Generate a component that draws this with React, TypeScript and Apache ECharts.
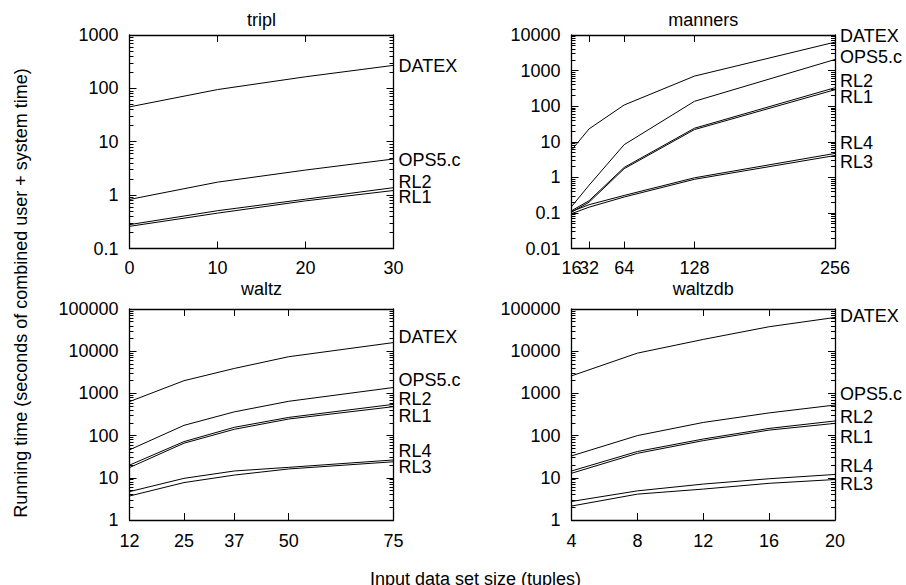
import React, { useEffect, useRef } from 'react';
import * as echarts from 'echarts';

// ---------- data ----------
const TRIPL_SIZES = [0, 10, 20, 30];
const TRIPL_DATEX = [45, 95, 165, 270];
const TRIPL_OPS5C = [0.83, 1.75, 2.95, 4.75];
const TRIPL_RL2 = [0.28, 0.51, 0.84, 1.38];
const TRIPL_RL1 = [0.26, 0.46, 0.78, 1.22];

const MANNERS_SIZES = [16, 32, 64, 128, 256];
const MANNERS_DATEX = [5.8, 23, 108, 700, 6300];
const MANNERS_OPS5C = [0.15, 0.6, 8.3, 137, 2050];
const MANNERS_RL2 = [0.115, 0.22, 1.9, 24, 330];
const MANNERS_RL1 = [0.105, 0.2, 1.75, 22, 290];
const MANNERS_RL4 = [0.11, 0.17, 0.31, 0.97, 4.7];
const MANNERS_RL3 = [0.095, 0.145, 0.28, 0.88, 4.1];

const WALTZ_SIZES = [12, 25, 37, 50, 75];
const WALTZ_DATEX = [640, 2000, 3900, 7400, 16000];
const WALTZ_OPS5C = [46, 175, 365, 650, 1380];
const WALTZ_RL2 = [20, 72, 157, 270, 550];
const WALTZ_RL1 = [17.5, 66, 141, 247, 485];
const WALTZ_RL4 = [4.7, 9.7, 14.5, 17.7, 26.5];
const WALTZ_RL3 = [3.7, 7.7, 11.6, 16.2, 24];

const WALTZDB_SIZES = [4, 8, 12, 16, 20];
const WALTZDB_DATEX = [2600, 9000, 19000, 38000, 63000];
const WALTZDB_OPS5C = [33, 100, 205, 345, 530];
const WALTZDB_RL2 = [14.5, 42, 83, 148, 222];
const WALTZDB_RL1 = [12.8, 38, 76, 135, 195];
const WALTZDB_RL4 = [2.75, 4.9, 7.1, 9.5, 12];
const WALTZDB_RL3 = [2.14, 4.1, 5.4, 7.4, 9.1];

// tick values; the manners "32" label is drawn by its own axis so it is not auto-hidden
const MANNERS_X_TICKS = [16, 32, 64, 128, 256];
const MANNERS_X_LABELS = [16, 64, 128, 256];
const MANNERS_X_EXTRA_LABELS = [32];
const WALTZ_X_TICKS = [12, 25, 37, 50, 75];

const Y_TITLE = 'Running time (seconds of combined user + system time)';
const X_TITLE = 'Input data set size (tuples)';

// ---------- layout / style ----------
const FONT = '"Liberation Sans", Arial, Helvetica, sans-serif';
const FS = 18;

type Panel = {
  title: string;
  sizes: number[];
  series: { name: string; values: number[]; dy: number }[];
  xMin: number; xMax: number; xInterval?: number;
  xTicks?: number[]; xLabels?: number[]; xExtraLabels?: number[];
  yMinExp: number; yMaxExp: number;
  left: number; top: number; width: number; height: number; titleY: number;
  xMargin: number;
};

const PANELS: Panel[] = [
  {
    title: 'tripl', sizes: TRIPL_SIZES,
    series: [
      { name: 'DATEX', values: TRIPL_DATEX, dy: 0.5 },
      { name: 'OPS5.c', values: TRIPL_OPS5C, dy: 1 },
      { name: 'RL2', values: TRIPL_RL2, dy: -6 },
      { name: 'RL1', values: TRIPL_RL1, dy: 6 },
    ],
    xMin: 0, xMax: 30, xInterval: 10, yMinExp: -1, yMaxExp: 3,
    left: 129.5, top: 35, width: 264, height: 213.5, titleY: 19.5, xMargin: 10,
  },
  {
    title: 'manners', sizes: MANNERS_SIZES,
    series: [
      { name: 'DATEX', values: MANNERS_DATEX, dy: -6 },
      { name: 'OPS5.c', values: MANNERS_OPS5C, dy: -2 },
      { name: 'RL2', values: MANNERS_RL2, dy: -7 },
      { name: 'RL1', values: MANNERS_RL1, dy: 7 },
      { name: 'RL4', values: MANNERS_RL4, dy: -10 },
      { name: 'RL3', values: MANNERS_RL3, dy: 6 },
    ],
    xMin: 16, xMax: 256, xTicks: MANNERS_X_TICKS, xLabels: MANNERS_X_LABELS,
    xExtraLabels: MANNERS_X_EXTRA_LABELS, yMinExp: -2, yMaxExp: 4,
    left: 571.5, top: 35, width: 263.5, height: 213.5, titleY: 19.5, xMargin: 10.5,
  },
  {
    title: 'waltz', sizes: WALTZ_SIZES,
    series: [
      { name: 'DATEX', values: WALTZ_DATEX, dy: -5.5 },
      { name: 'OPS5.c', values: WALTZ_OPS5C, dy: -7 },
      { name: 'RL2', values: WALTZ_RL2, dy: -5 },
      { name: 'RL1', values: WALTZ_RL1, dy: 9 },
      { name: 'RL4', values: WALTZ_RL4, dy: -9 },
      { name: 'RL3', values: WALTZ_RL3, dy: 5.5 },
    ],
    xMin: 12, xMax: 75, xTicks: WALTZ_X_TICKS, yMinExp: 0, yMaxExp: 5,
    left: 129.5, top: 309, width: 264, height: 211, titleY: 289, xMargin: 12,
  },
  {
    title: 'waltzdb', sizes: WALTZDB_SIZES,
    series: [
      { name: 'DATEX', values: WALTZDB_DATEX, dy: -1 },
      { name: 'OPS5.c', values: WALTZDB_OPS5C, dy: -11 },
      { name: 'RL2', values: WALTZDB_RL2, dy: -4 },
      { name: 'RL1', values: WALTZDB_RL1, dy: 14 },
      { name: 'RL4', values: WALTZDB_RL4, dy: -8 },
      { name: 'RL3', values: WALTZDB_RL3, dy: 4.5 },
    ],
    xMin: 4, xMax: 20, xInterval: 4, yMinExp: 0, yMaxExp: 5,
    left: 571.5, top: 309, width: 263.5, height: 211, titleY: 289, xMargin: 12,
  },
];

const AXIS_LINE = { color: '#000', width: 1.3 };
const TICK_LINE = { color: '#000', width: 1 };

function fmtLog(v: number): string {
  return String(Number(v.toPrecision(6)));
}

function minorValues(lo: number, hi: number): number[] {
  const out: number[] = [];
  for (let d = lo; d < hi; d++) {
    for (let k = 2; k <= 9; k++) out.push(d + Math.log10(k));
  }
  return out;
}

function buildOption() {
  const grid: any[] = [];
  const xAxis: any[] = [];
  const yAxis: any[] = [];
  const series: any[] = [];
  const graphic: any[] = [];

  PANELS.forEach((p, i) => {
    grid.push({ left: p.left, top: p.top, width: p.width, height: p.height, show: false });

    const labelBase = {
      color: '#000', fontSize: FS, fontFamily: FONT, margin: p.xMargin,
      showMinLabel: true, showMaxLabel: true, hideOverlap: false,
    };
    const makeX = (position: 'bottom' | 'top') => {
      const ax: any = {
        type: 'value', gridIndex: i, position, min: p.xMin, max: p.xMax,
        axisLine: { show: true, onZero: false, lineStyle: AXIS_LINE },
        axisTick: { show: true, inside: true, length: 7, lineStyle: TICK_LINE },
        axisLabel: { ...labelBase, show: position === 'bottom' },
        splitLine: { show: false },
      };
      if (p.xTicks) {
        ax.axisTick.customValues = p.xTicks;
        ax.axisLabel.customValues = p.xLabels || p.xTicks;
      } else {
        ax.interval = p.xInterval;
      }
      return ax;
    };
    const xBottomIndex = xAxis.length;
    xAxis.push(makeX('bottom'));
    xAxis.push(makeX('top'));
    if (p.xExtraLabels) {
      xAxis.push({
        type: 'value', gridIndex: i, position: 'bottom', min: p.xMin, max: p.xMax,
        axisLine: { show: false, onZero: false },
        axisTick: { show: false },
        axisLabel: { ...labelBase, customValues: p.xExtraLabels, showMinLabel: true, showMaxLabel: true },
        splitLine: { show: false },
      });
    }

    const yMin = Math.pow(10, p.yMinExp);
    const yMax = Math.pow(10, p.yMaxExp);
    const makeLogY = (position: 'left' | 'right') => ({
      type: 'log', logBase: 10, gridIndex: i, position, min: yMin, max: yMax,
      splitNumber: p.yMaxExp - p.yMinExp,
      axisLine: { show: true, onZero: false, lineStyle: AXIS_LINE },
      axisTick: { show: true, inside: true, length: 7, lineStyle: TICK_LINE },
      axisLabel: {
        show: position === 'left', color: '#000', fontSize: FS, fontFamily: FONT,
        margin: 11, formatter: fmtLog, showMinLabel: true, showMaxLabel: true,
      },
      splitLine: { show: false },
      minorTick: { show: false },
    });
    const minors = minorValues(p.yMinExp, p.yMaxExp);
    const makeMinorY = (position: 'left' | 'right') => ({
      type: 'value', gridIndex: i, position, min: p.yMinExp, max: p.yMaxExp,
      axisLine: { show: false, onZero: false },
      axisLabel: { show: false },
      splitLine: { show: false },
      axisTick: { show: true, inside: true, length: 4, lineStyle: TICK_LINE, customValues: minors },
    });
    const yLogIndex = yAxis.length;
    yAxis.push(makeLogY('left'));
    yAxis.push(makeLogY('right'));
    yAxis.push(makeMinorY('left'));
    yAxis.push(makeMinorY('right'));

    p.series.forEach((s) => {
      series.push({
        type: 'line', name: `${p.title}-${s.name}`,
        xAxisIndex: xBottomIndex, yAxisIndex: yLogIndex,
        data: p.sizes.map((x, k) => [x, s.values[k]]),
        showSymbol: false, symbol: 'none', clip: false,
        lineStyle: { color: '#000', width: 1 },
        itemStyle: { color: '#000' },
        emphasis: { disabled: true },
        endLabel: {
          show: true, formatter: () => s.name, distance: 5, offset: [0, s.dy],
          color: '#000', fontSize: FS, fontFamily: FONT, lineHeight: 13,
        },
      });
    });

    graphic.push({
      type: 'text', x: p.left + p.width / 2, y: p.titleY,
      style: {
        text: p.title, fill: '#000', font: `${FS}px ${FONT}`,
        align: 'center', verticalAlign: 'middle', textAlign: 'center', textVerticalAlign: 'middle',
      },
    });
  });

  graphic.push({
    type: 'text', x: 20.5, y: 293, rotation: Math.PI / 2,
    style: {
      text: Y_TITLE, fill: '#000', font: `${FS}px ${FONT}`,
      align: 'center', verticalAlign: 'middle', textAlign: 'center', textVerticalAlign: 'middle',
    },
  });
  graphic.push({
    type: 'text', x: 475.5, y: 579,
    style: {
      text: X_TITLE, fill: '#000', font: `${FS}px ${FONT}`,
      align: 'center', verticalAlign: 'middle', textAlign: 'center', textVerticalAlign: 'middle',
    },
  });

  return {
    animation: false,
    backgroundColor: '#fff',
    textStyle: { fontFamily: FONT },
    grid, xAxis, yAxis, series, graphic,
  };
}

export default function App() {
  const ref = useRef<HTMLDivElement | null>(null);
  useEffect(() => {
    if (!ref.current) return;
    const chart = echarts.init(ref.current, null, { renderer: 'svg' });
    chart.setOption(buildOption() as any);
    return () => chart.dispose();
  }, []);
  return (
    <div
      ref={ref}
      style={{ position: 'absolute', left: 0, top: 0, width: 906, height: 585 }}
    />
  );
}
